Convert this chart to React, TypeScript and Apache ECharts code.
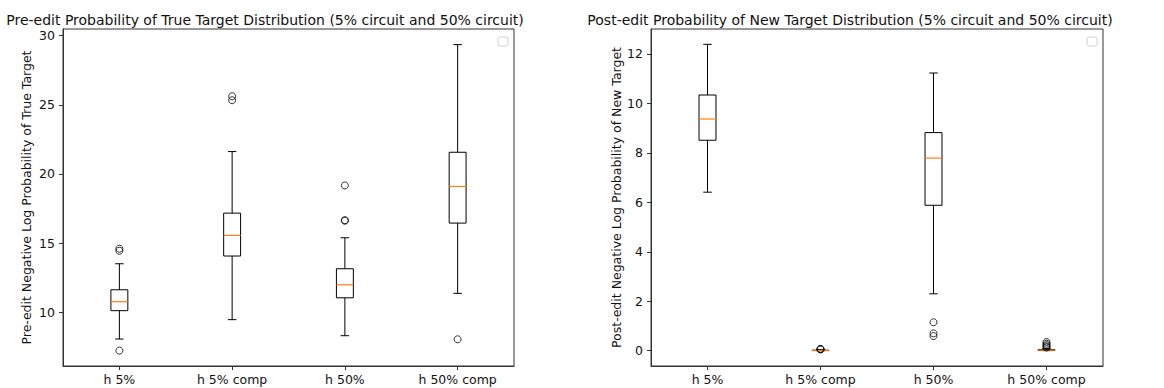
import React, { useEffect, useRef } from "react";
import * as echarts from "echarts";

const categories = ["h 5%", "h 5% comp", "h 50%", "h 50% comp"];

// [whiskerLow, q1, median, q3, whiskerHigh]
const preBoxes = [
  [8.07, 10.12, 10.77, 11.63, 13.51],
  [9.47, 14.07, 15.56, 17.17, 21.62],
  [8.31, 11.05, 11.99, 13.15, 15.39],
  [11.37, 16.45, 19.1, 21.57, 29.35],
];
const preOutliers = [
  [0, 14.6], [0, 14.45], [0, 7.23],
  [1, 25.62], [1, 25.33],
  [2, 19.17], [2, 16.66], [2, 16.62],
  [3, 8.05],
];

const postBoxes = [
  [6.41, 8.51, 9.37, 10.34, 12.39],
  [0.0, 0.003, 0.01, 0.02, 0.045],
  [2.3, 5.88, 7.79, 8.82, 11.23],
  [0.0, 0.01, 0.02, 0.04, 0.09],
];
const postOutliers = [
  [1, 0.07], [1, 0.06], [1, 0.05],
  [2, 1.15], [2, 0.7], [2, 0.59],
  [3, 0.35], [3, 0.28], [3, 0.22], [3, 0.17], [3, 0.13],
];

const preTicks = [10, 15, 20, 25, 30];
const postTicks = [0, 2, 4, 6, 8, 10, 12];

const FONT = "DejaVu Sans";
const TXT = "#111";
const LBL = 12.5;
const TTL = 14;

function renderBox(params: any, api: any) {
  const idx = api.value(0);
  const lo = api.coord([idx, api.value(1)]);
  const q1 = api.coord([idx, api.value(2)]);
  const med = api.coord([idx, api.value(3)]);
  const q3 = api.coord([idx, api.value(4)]);
  const hi = api.coord([idx, api.value(5)]);
  const band = api.size([1, 0])[0];
  const hw = band * 0.075;
  const cw = hw / 2;
  const x = lo[0];
  const ls = { stroke: "#000", lineWidth: 1 };
  return {
    type: "group",
    children: [
      { type: "line", shape: { x1: x, y1: q1[1], x2: x, y2: lo[1] }, style: ls },
      { type: "line", shape: { x1: x, y1: q3[1], x2: x, y2: hi[1] }, style: ls },
      { type: "line", shape: { x1: x - cw, y1: lo[1], x2: x + cw, y2: lo[1] }, style: ls },
      { type: "line", shape: { x1: x - cw, y1: hi[1], x2: x + cw, y2: hi[1] }, style: ls },
      {
        type: "rect",
        shape: { x: x - hw, y: q3[1], width: hw * 2, height: q1[1] - q3[1] },
        style: { fill: "none", stroke: "#000", lineWidth: 1 },
      },
      {
        type: "line",
        shape: { x1: x - hw, y1: med[1], x2: x + hw, y2: med[1] },
        style: { stroke: "#ff7f0e", lineWidth: 1.2 },
      },
    ],
  };
}

export default function App() {
  const ref = useRef<HTMLDivElement>(null);
  useEffect(() => {
    document.body.style.margin = "0";
    if (!ref.current) return;
    const chart = echarts.init(ref.current, undefined, { renderer: "svg" });

    const mkX = (gi: number) => ({
      type: "category",
      gridIndex: gi,
      data: categories,
      boundaryGap: true,
      axisLine: { show: true, onZero: false, lineStyle: { color: "#333", width: 1 } },
      axisTick: { show: true, alignWithLabel: true, inside: false, length: 4, lineStyle: { color: "#333" } },
      axisLabel: { color: TXT, fontFamily: FONT, fontSize: LBL, margin: 7 },
      splitLine: { show: false },
    });
    const mkY = (gi: number, min: number, max: number, ticks: number[], name: string, gap: number) => ({
      type: "value",
      gridIndex: gi,
      min,
      max,
      name,
      nameLocation: "middle",
      nameGap: gap,
      nameTextStyle: { color: TXT, fontFamily: FONT, fontSize: LBL },
      axisLine: { show: true, onZero: false, lineStyle: { color: "#333", width: 1 } },
      axisTick: { show: true, inside: false, length: 4, lineStyle: { color: "#333" }, customValues: ticks },
      axisLabel: { color: TXT, fontFamily: FONT, fontSize: LBL, margin: 8, customValues: ticks },
      splitLine: { show: false },
    });

    const option: any = {
      animation: false,
      backgroundColor: "#fff",
      title: [
        {
          text: "Pre-edit Probability of True Target Distribution (5% circuit and 50% circuit)",
          left: 260,
          top: 8,
          textAlign: "center",
          textStyle: { color: TXT, fontFamily: FONT, fontSize: TTL, fontWeight: "normal" },
        },
        {
          text: "Post-edit Probability of New Target Distribution (5% circuit and 50% circuit)",
          left: 845,
          top: 8,
          textAlign: "center",
          textStyle: { color: TXT, fontFamily: FONT, fontSize: TTL, fontWeight: "normal" },
        },
      ],
      grid: [
        { left: 63, right: 650, top: 29, bottom: 22, show: true, borderColor: "#333", borderWidth: 1, backgroundColor: "transparent" },
        { left: 651, right: 61, top: 29, bottom: 22, show: true, borderColor: "#333", borderWidth: 1, backgroundColor: "transparent" },
      ],
      xAxis: [mkX(0), mkX(1)],
      yAxis: [
        mkY(0, 6.12, 30.48, preTicks, "Pre-edit Negative Log Probability of True Target", 30),
        mkY(1, -0.62, 13.01, postTicks, "Post-edit Negative Log Probability of New Target", 27),
      ],
      graphic: [
        { type: "rect", shape: { x: 498, y: 37, width: 10, height: 9, r: 2 }, style: { fill: "#fff", stroke: "#d0d0d0", lineWidth: 1 } },
        { type: "rect", shape: { x: 1087, y: 37, width: 10, height: 9, r: 2 }, style: { fill: "#fff", stroke: "#d0d0d0", lineWidth: 1 } },
      ],
      series: [
        {
          type: "custom",
          xAxisIndex: 0,
          yAxisIndex: 0,
          renderItem: renderBox,
          encode: { x: 0, y: [1, 2, 3, 4, 5] },
          data: preBoxes.map((b, i) => [i, ...b]),
          z: 2,
        },
        {
          type: "scatter",
          xAxisIndex: 0,
          yAxisIndex: 0,
          symbol: "circle",
          symbolSize: 7,
          itemStyle: { color: "rgba(0,0,0,0)", borderColor: "#000", borderWidth: 1 },
          data: preOutliers,
          z: 3,
        },
        {
          type: "custom",
          xAxisIndex: 1,
          yAxisIndex: 1,
          renderItem: renderBox,
          encode: { x: 0, y: [1, 2, 3, 4, 5] },
          data: postBoxes.map((b, i) => [i, ...b]),
          z: 2,
        },
        {
          type: "scatter",
          xAxisIndex: 1,
          yAxisIndex: 1,
          symbol: "circle",
          symbolSize: 7,
          itemStyle: { color: "rgba(0,0,0,0)", borderColor: "#000", borderWidth: 1 },
          data: postOutliers,
          z: 3,
        },
      ],
    };
    chart.setOption(option);
    return () => chart.dispose();
  }, []);
  return <div ref={ref} style={{ width: 1164, height: 388 }} />;
}
